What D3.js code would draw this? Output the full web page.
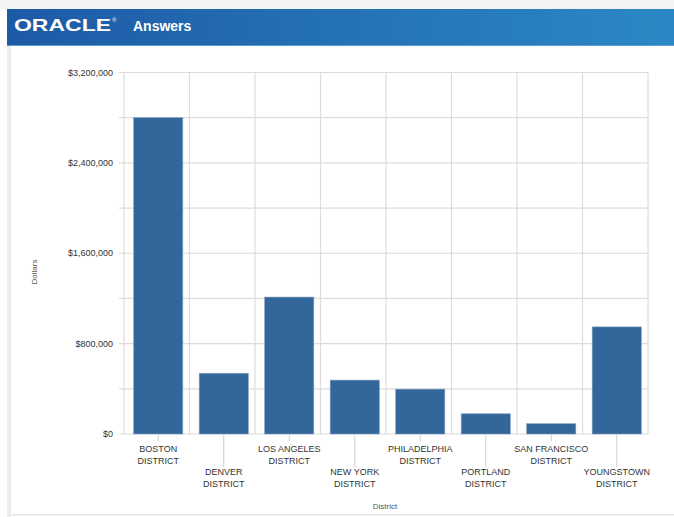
<!DOCTYPE html>
<html>
<head>
<meta charset="utf-8">
<script src="https://cdn.jsdelivr.net/npm/d3@7"></script>
<style>
  body { margin: 0; background: #fff; }
  svg { display: block; font-family: "Liberation Sans", Arial, sans-serif; }
</style>
</head>
<body>
<script>
// dati
var districts = ["BOSTON DISTRICT", "DENVER DISTRICT", "LOS ANGELES DISTRICT", "NEW YORK DISTRICT",
  "PHILADELPHIA DISTRICT", "PORTLAND DISTRICT", "SAN FRANCISCO DISTRICT", "YOUNGSTOWN DISTRICT"];
var dollars = [2800000, 538000, 1212000, 477000, 397000, 179000, 91000, 948000];
var yTicks = [0, 400000, 800000, 1200000, 1600000, 2000000, 2400000, 2800000, 3200000];
var yLabels = [0, 800000, 1600000, 2400000, 3200000];

var W = 674, H = 517;
var svg = d3.select("body").append("svg").attr("width", W).attr("height", H);

// intestazione Oracle
var defs = svg.append("defs");
var grad = defs.append("linearGradient").attr("id", "hdr").attr("x1", 0).attr("x2", 1).attr("y1", 0).attr("y2", 0);
grad.append("stop").attr("offset", "0%").attr("stop-color", "#1d5aa6");
grad.append("stop").attr("offset", "55%").attr("stop-color", "#2574b6");
grad.append("stop").attr("offset", "100%").attr("stop-color", "#2c88c4");

svg.append("rect").attr("x", 0).attr("y", 0).attr("width", W).attr("height", 9).attr("fill", "#f3f3f3");
svg.append("rect").attr("x", 7).attr("y", 9).attr("width", W - 7).attr("height", 37).attr("fill", "url(#hdr)");
svg.append("rect").attr("x", 7).attr("y", 45).attr("width", W - 7).attr("height", 1).attr("fill", "#5d9ad0");
svg.append("text").attr("x", 14).attr("y", 31).attr("fill", "#fff")
  .attr("font-size", 17).attr("font-weight", "bold").attr("textLength", 97)
  .attr("lengthAdjust", "spacingAndGlyphs").text("ORACLE");
svg.append("text").attr("x", 112).attr("y", 22).attr("fill", "#fff").attr("font-size", 6).text("®");
svg.append("text").attr("x", 133).attr("y", 31).attr("fill", "#fff")
  .attr("font-size", 14).attr("font-weight", "bold").text("Answers");

// bordi della pagina
svg.append("rect").attr("x", 7).attr("y", 46).attr("width", 4).attr("height", H - 46).attr("fill", "#ececec");
svg.append("rect").attr("x", 11).attr("y", 514).attr("width", W - 11).attr("height", 1.5).attr("fill", "#e6e6e6");

// scale
var plotL = 124, plotR = 648, plotT = 72.5, plotB = 434;
var x = d3.scaleBand().domain(districts).range([plotL, plotR]).paddingInner(0.25).paddingOuter(0.125);
var y = d3.scaleLinear().domain([0, 3200000]).range([plotB, plotT]);
var step = x.step();

var grid = svg.append("g");
// griglia orizzontale con tacche
grid.selectAll(".hg").data(yTicks).enter().append("line")
  .attr("x1", plotL - 5).attr("x2", plotR)
  .attr("y1", d => y(d)).attr("y2", d => y(d))
  .attr("stroke", "#dcdcdc").attr("stroke-width", 1.2);
// griglia verticale ai bordi delle bande
var edges = districts.map(d => x(d) - step * 0.125).concat([plotR]);
grid.selectAll(".vg").data(edges).enter().append("line")
  .attr("x1", d => d).attr("x2", d => d)
  .attr("y1", plotT).attr("y2", plotB)
  .attr("stroke", "#dcdcdc").attr("stroke-width", 1.2);

// etichette asse y
var fmt = d3.format("$,.0f");
svg.append("g").selectAll("text").data(yLabels).enter().append("text")
  .attr("x", 113).attr("y", d => y(d) + 3)
  .attr("text-anchor", "end").attr("font-size", 9).attr("fill", "#333")
  .text(d => fmt(d));

// barre
svg.append("g").selectAll("rect").data(dollars).enter().append("rect")
  .attr("x", (d, i) => x(districts[i]) + 1.5)
  .attr("y", d => y(d))
  .attr("width", x.bandwidth())
  .attr("height", d => plotB - y(d))
  .attr("fill", "#33669a")
  .attr("stroke", "#7f9fc2").attr("stroke-width", 0.6);

// tacche e etichette asse x (sfalsate su due righe)
var xl = svg.append("g");
districts.forEach((d, i) => {
  var cx = x(d) + x.bandwidth() / 2 + 1.5;
  var row = i % 2;
  xl.append("line").attr("x1", cx).attr("x2", cx)
    .attr("y1", plotB + 1).attr("y2", row ? 467 : 441)
    .attr("stroke", "#cfcfcf").attr("stroke-width", 1);
  var parts = d.split(" ");
  var l1 = parts.slice(0, -1).join(" "), l2 = parts[parts.length - 1];
  var y0 = row ? 475 : 452;
  var t = xl.append("text").attr("text-anchor", "middle").attr("font-size", 9).attr("fill", "#333");
  t.append("tspan").attr("x", cx).attr("y", y0).text(l1);
  t.append("tspan").attr("x", cx).attr("y", y0 + 11.5).text(l2);
});

// titoli degli assi
svg.append("text").attr("x", 385).attr("y", 509).attr("text-anchor", "middle")
  .attr("font-size", 8).attr("fill", "#555").text("District");
svg.append("text").attr("transform", "translate(37,272) rotate(-90)").attr("text-anchor", "middle")
  .attr("font-size", 8).attr("fill", "#555").text("Dollars");
</script>
</body>
</html>
